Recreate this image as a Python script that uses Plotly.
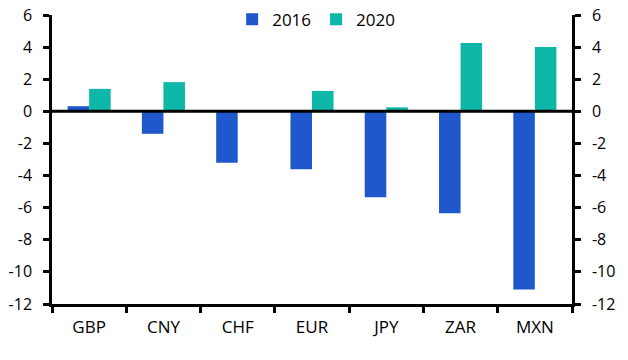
import plotly.graph_objects as go

categories = ["GBP", "CNY", "CHF", "EUR", "JPY", "ZAR", "MXN"]
series_2016 = [0.32, -1.4, -3.2, -3.6, -5.35, -6.35, -11.1]
series_2020 = [1.4, 1.82, 0.0, 1.27, 0.25, 4.25, 4.0]
tick_vals = [6, 4, 2, 0, -2, -4, -6, -8, -10, -12]
tick_text = ["6", "4", "2", "0", "-2", "-4", "-6", "-8", "-10", "-12"]

FONT = "Open Sans"
BLUE = "#1F58CC"
TEAL = "#0EB8A9"

fig = go.Figure()
fig.add_trace(go.Bar(name="2016", x=categories, y=series_2016, marker_color=BLUE, marker_line_width=0))
fig.add_trace(go.Bar(name="2020", x=categories, y=series_2020, marker_color=TEAL, marker_line_width=0))
fig.add_trace(go.Scatter(x=categories, y=[None] * len(categories), yaxis="y2",
                         showlegend=False, hoverinfo="skip", mode="lines"))

yax = dict(range=[-12, 6], tickvals=tick_vals, ticktext=tick_text,
           showgrid=False, showline=True, linecolor="black", linewidth=2.5,
           ticks="outside", ticklen=6, tickwidth=2.5, tickcolor="black",
           ticklabelstandoff=8, automargin=False,
           zeroline=False, tickfont=dict(family=FONT, size=16, color="black"), fixedrange=True)

fig.update_layout(
    width=628, height=360,
    margin=dict(l=52, r=56, t=15, b=56, autoexpand=False),
    paper_bgcolor="white", plot_bgcolor="white",
    barmode="group", bargap=0.42, bargroupgap=0,
    font=dict(family=FONT, size=16, color="black"),
    legend=dict(orientation="h", x=0.508, xanchor="center",
                yref="container", y=0.995, yanchor="top",
                font=dict(family=FONT, size=17, color="black"),
                itemwidth=30, traceorder="normal", bgcolor="rgba(0,0,0,0)"),
    xaxis=dict(type="category", showline=True, linecolor="black", linewidth=2.5,
               ticks="outside", ticklen=6, tickwidth=2.5, tickcolor="black",
               tickson="boundaries", showgrid=False, automargin=False,
               ticklabelstandoff=6,
               tickfont=dict(family=FONT, size=17, color="black")),
    yaxis=yax,
    yaxis2=dict(yax, overlaying="y", side="right"),
    shapes=[dict(type="line", xref="paper", x0=0, x1=1, yref="y", y0=0, y1=0,
                 line=dict(color="black", width=3), layer="above")],
)

fig.write_html("out.html", config={"displayModeBar": False},
               post_script="document.body.style.margin='0';")
